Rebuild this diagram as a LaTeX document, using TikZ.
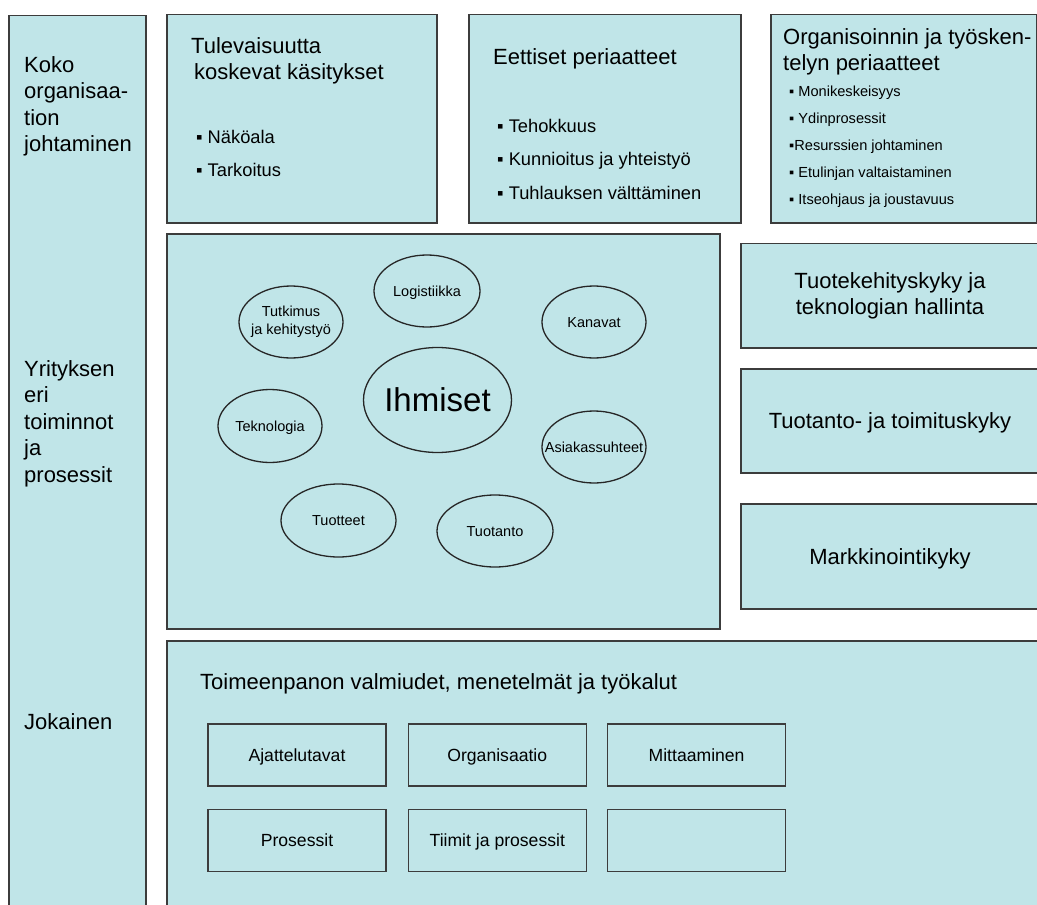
\documentclass[tikz,border=0pt]{standalone}
\usepackage{fontspec}
\setmainfont{Liberation Sans}
\usetikzlibrary{positioning, shapes.geometric}
\definecolor{paleteal}{RGB}{192,229,232}
\definecolor{edgegray}{RGB}{60,60,60}
\newcommand*{\bigfont}{\fontsize{22}{26.5}\selectfont}
\newcommand*{\listfont}{\fontsize{18.3}{33.5}\selectfont}
\newcommand*{\smallfont}{\fontsize{14.6}{27}\selectfont}
\tikzset{
  panel/.style   = {draw=edgegray, fill=paleteal, line width=1.3pt, inner sep=0pt},
  ring/.style    = {ellipse, draw=black!85, line width=1.3pt, inner xsep=-20pt,
                    inner ysep=-8pt, align=center, font=\fontsize{14.5}{18}\selectfont},
  oneline/.style 2 args = {text height=#1, text depth=#2},
  tool/.style    = {panel, oneline={16.2pt}{3.5pt}, minimum width=178pt,
                    minimum height=62pt, font=\fontsize{17.6}{21}\selectfont},
  lbl/.style     = {inner sep=0pt, align=left, anchor=north west},
  line/.style    = {inner sep=0pt, anchor=base west},
}

\begin{document}
\begin{tikzpicture}[x=1pt, y=-1pt]
  \useasboundingbox (0,0) rectangle (1037,905);
  \clip (0,0) rectangle (1037,905);
  \fill[white] (0,0) rectangle (1037,905);

  % levels on the left
  \node[panel, minimum width=137pt, minimum height=900pt] (levels) at (77.5,465.5) {};
  \node[lbl, font=\bigfont] (whole) at (24,56) {Koko\\organisaa-\\tion\\johtaminen};
  \node[lbl, font=\bigfont] (functions) at (24,360) {Yrityksen\\eri\\toiminnot\\ja\\prosessit};
  \node[line, font=\bigfont] (everyone) at (24,729) {Jokainen};

  % top row
  \node[panel, minimum width=270pt, minimum height=208.5pt] (future) at (302,118.75) {};
  \node[lbl, font=\bigfont] (futuretitle) at (191,37) {Tulevaisuutta\\\hspace*{3pt}koskevat käsitykset};
  \node[lbl, font=\listfont] (futurelist) at (196,130) {▪ Näköala\\▪ Tarkoitus};

  \node[panel, minimum width=272pt, minimum height=208.5pt] (ethics) at (605,118.75) {};
  \node[line, font=\bigfont] (ethicstitle) at (493,64) {Eettiset periaatteet};
  \node[lbl, font=\listfont] (ethicslist) at (497,119) {▪ Tehokkuus\\▪ Kunnioitus ja yhteistyö\\▪ Tuhlauksen välttäminen};

  \node[panel, minimum width=265.5pt, minimum height=208.5pt] (workways) at (903.75,118.75) {};
  \node[lbl, font=\bigfont] (workwaystitle) at (783,28) {Organisoinnin ja työsken-\\telyn periaatteet};
  \node[lbl, font=\smallfont] (workwayslist) at (789,85.5) {▪ Monikeskeisyys\\▪ Ydinprosessit\\▪Resurssien johtaminen\\▪ Etulinjan valtaistaminen\\▪ Itseohjaus ja joustavuus};

  % people and functions
  \node[panel, minimum width=553pt, minimum height=395pt] (core) at (443.5,431.5) {};
  \node[ring, oneline={30.4pt}{6.6pt}, minimum width=148pt, minimum height=105pt,
        font=\fontsize{33}{38}\selectfont] (people) at (437.5,400) {Ihmiset};
  \node[ring, oneline={13.3pt}{2.9pt}, minimum width=106pt, minimum height=72pt] (logistics) at (427,291) {Logistiikka};
  \node[ring, minimum width=104pt, minimum height=72pt] (research) at (291,322) {Tutkimus\\ja kehitystyö};
  \node[ring, oneline={13.3pt}{2.9pt}, minimum width=104pt, minimum height=72pt] (channels) at (594,322) {Kanavat};
  \node[ring, oneline={13.3pt}{2.9pt}, minimum width=104pt, minimum height=73pt] (technology) at (270,426) {Teknologia};
  \node[ring, oneline={13.3pt}{2.9pt}, minimum width=104pt, minimum height=72pt] (customers) at (594,447) {Asiakassuhteet};
  \node[ring, oneline={13.3pt}{2.9pt}, minimum width=115pt, minimum height=73pt] (products) at (338.5,520.5) {Tuotteet};
  \node[ring, oneline={13.3pt}{2.9pt}, minimum width=116pt, minimum height=72pt] (production) at (495,531) {Tuotanto};

  % capabilities on the right
  \node[panel, minimum width=298pt, minimum height=104.5pt, align=center,
        font=\bigfont] (develop) at (890,295.75) {Tuotekehityskyky ja\\teknologian hallinta};
  \node[panel, oneline={20.2pt}{4.4pt}, minimum width=298pt, minimum height=104pt,
        font=\bigfont] (deliver) at (890,421) {Tuotanto- ja toimituskyky};
  \node[panel, oneline={20.2pt}{4.4pt}, minimum width=298pt, minimum height=105pt,
        font=\bigfont] (market) at (890,556.5) {Markkinointikyky};

  % tools at the bottom
  \node[panel, minimum width=878pt, minimum height=274pt] (tools) at (606,778) {};
  \node[line, font=\bigfont] (toolstitle) at (200,689) {Toimeenpanon valmiudet, menetelmät ja työkalut};
  \node[tool] (thinking) at (297,755) {Ajattelutavat};
  \node[tool, right=21pt of thinking] (organising) {Organisaatio};
  \node[tool, right=20pt of organising] (measuring) {Mittaaminen};
  \node[tool, below=22pt of thinking] (processes) {Prosessit};
  \node[tool, right=21pt of processes] (teams) {Tiimit ja prosessit};
  \node[tool, right=20pt of teams] (spare) {};
\end{tikzpicture}
\end{document}
